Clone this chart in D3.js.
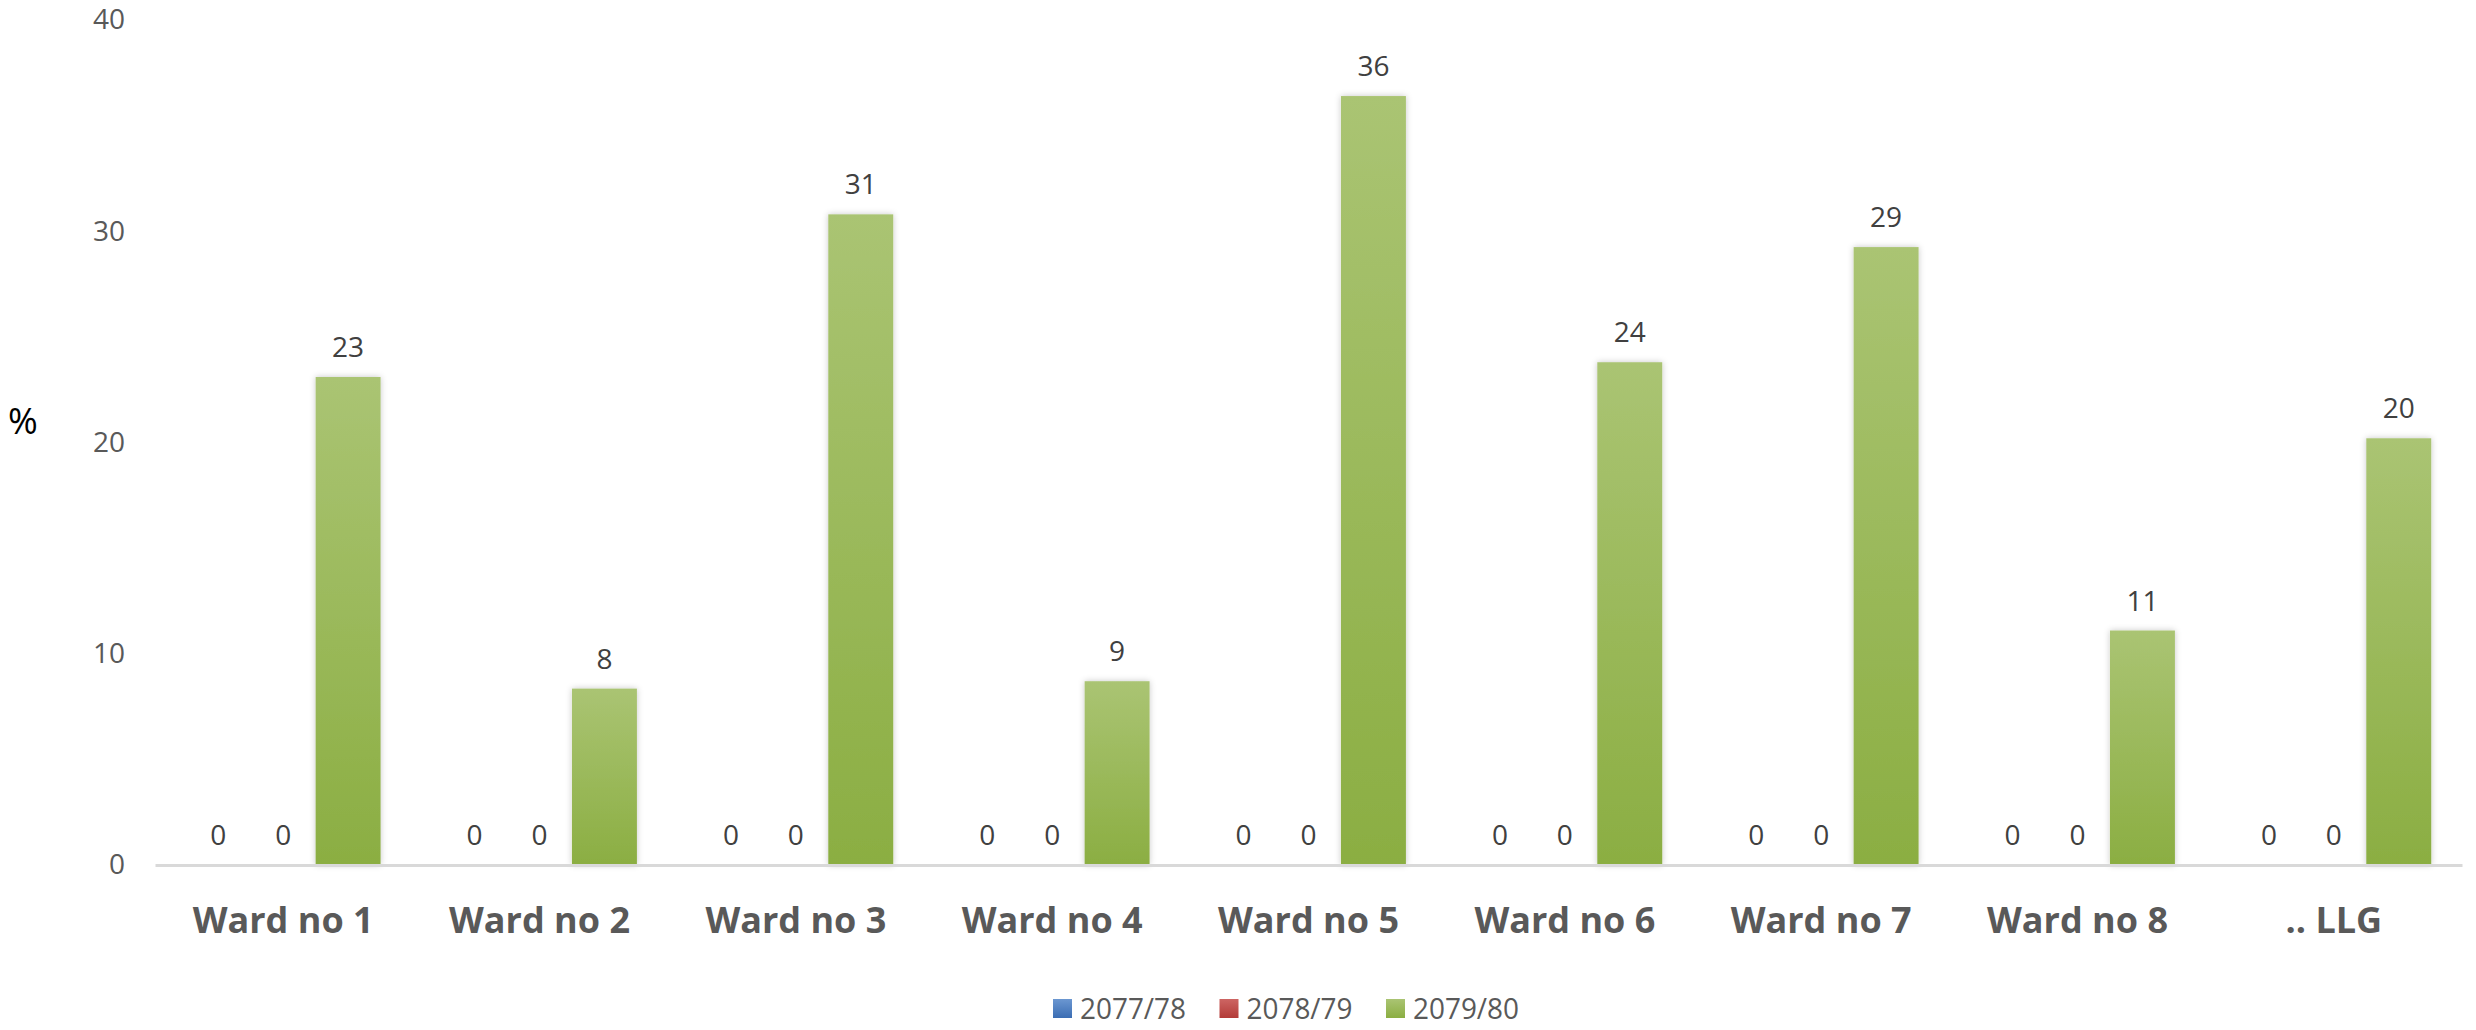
<!DOCTYPE html>
<html>
<head>
<meta charset="utf-8">
<script src="https://cdn.jsdelivr.net/npm/d3@7"></script>
<style>
  html, body { margin: 0; padding: 0; background: #fff; }
  svg { display: block; }
</style>
</head>
<body>
<svg id="chart" width="2476" height="1030"></svg>
<script>
const categories = ["Ward no 1", "Ward no 2", "Ward no 3", "Ward no 4", "Ward no 5", "Ward no 6", "Ward no 7", "Ward no 8", ".. LLG"];
const seriesNames = ["2077/78", "2078/79", "2079/80"];
const values2077 = [0, 0, 0, 0, 0, 0, 0, 0, 0];
const values2078 = [0, 0, 0, 0, 0, 0, 0, 0, 0];
const values2079 = [23.1, 8.35, 30.8, 8.7, 36.4, 23.8, 29.25, 11.1, 20.2];
const yTicks = [0, 10, 20, 30, 40];
const yLabel = "%";

const seriesValues = [values2077, values2078, values2079];
const colors = [
  { top: "#6b97d1", bottom: "#3b6db3" },
  { top: "#cd6563", bottom: "#b33b38" },
  { top: "#aac473", bottom: "#8bae42" }
];

const svg = d3.select("#chart");
const plotLeft = 155, plotRight = 2462, plotTop = 20, plotBottom = 865;

const defs = svg.append("defs");
colors.forEach((c, i) => {
  const g = defs.append("linearGradient").attr("id", "grad" + i)
    .attr("x1", 0).attr("y1", 0).attr("x2", 0).attr("y2", 1);
  g.append("stop").attr("offset", "0%").attr("stop-color", c.top);
  g.append("stop").attr("offset", "100%").attr("stop-color", c.bottom);
});
const filt = defs.append("filter").attr("id", "shadow")
  .attr("x", "-30%").attr("y", "-5%").attr("width", "160%").attr("height", "110%");
filt.append("feDropShadow").attr("dx", 0).attr("dy", 0).attr("stdDeviation", 3)
  .attr("flood-color", "#000").attr("flood-opacity", 0.22);

const x0 = d3.scaleBand().domain(categories).range([plotLeft, plotRight])
  .paddingInner(0.24).paddingOuter(0.12);
const x1 = d3.scaleBand().domain(seriesNames).range([0, x0.bandwidth()]).padding(0);
const y = d3.scaleLinear().domain([0, 40]).range([plotBottom, plotTop]);

// Y axis
const yAxis = svg.append("g").attr("transform", `translate(${plotLeft},0)`)
  .call(d3.axisLeft(y).tickValues(yTicks).tickSize(0).tickPadding(30));
yAxis.select(".domain").remove();
yAxis.selectAll("text")
  .attr("font-family", "'Open Sans', sans-serif")
  .attr("font-size", 28).attr("fill", "#595959");

// Y label
svg.append("text").attr("x", 8).attr("y", 434)
  .attr("font-family", "'Open Sans', sans-serif")
  .attr("font-size", 36).attr("fill", "#000").text(yLabel);

// Bars
const data = [];
categories.forEach((cat, ci) => {
  seriesNames.forEach((s, si) => {
    data.push({ cat, s, si, v: seriesValues[si][ci] });
  });
});

const bw = x1.bandwidth();
svg.append("g").selectAll("rect").data(data.filter(d => d.v > 0)).join("rect")
  .attr("x", d => x0(d.cat) + x1(d.s))
  .attr("y", d => y(d.v))
  .attr("width", bw)
  .attr("height", d => y(0) - y(d.v))
  .attr("fill", d => `url(#grad${d.si})`)
  .attr("filter", "url(#shadow)");

// X axis
const xAxis = svg.append("g").attr("transform", `translate(0,${plotBottom})`)
  .call(d3.axisBottom(x0).tickSize(0).tickSizeOuter(0).tickPadding(42));
xAxis.select(".domain").attr("stroke", "#d9d9d9").attr("stroke-width", 3);
xAxis.selectAll("text")
  .attr("font-family", "'Open Sans', sans-serif")
  .attr("font-size", 36).attr("font-weight", "bold").attr("fill", "#595959");

// Value labels
const fmt = d3.format(".0f");
svg.append("g").selectAll("text").data(data).join("text")
  .attr("x", d => x0(d.cat) + x1(d.s) + bw / 2)
  .attr("y", d => y(d.v) - 20)
  .attr("text-anchor", "middle")
  .attr("font-family", "'Open Sans', sans-serif")
  .attr("font-size", 28).attr("fill", "#404040")
  .text(d => fmt(d.v));

// Legend
const legend = svg.append("g");
const legX = d3.scalePoint().domain(seriesNames).range([1053, 1386]);
const li = legend.selectAll("g").data(seriesNames).join("g")
  .attr("transform", d => `translate(${legX(d)},999)`);
li.append("rect").attr("width", 19).attr("height", 19)
  .attr("fill", (d, i) => `url(#grad${i})`);
li.append("text").attr("x", 27).attr("y", 20)
  .attr("font-family", "'Open Sans', sans-serif")
  .attr("font-size", 30).attr("fill", "#595959")
  .attr("textLength", 106).attr("lengthAdjust", "spacingAndGlyphs")
  .text(d => d);
</script>
</body>
</html>
